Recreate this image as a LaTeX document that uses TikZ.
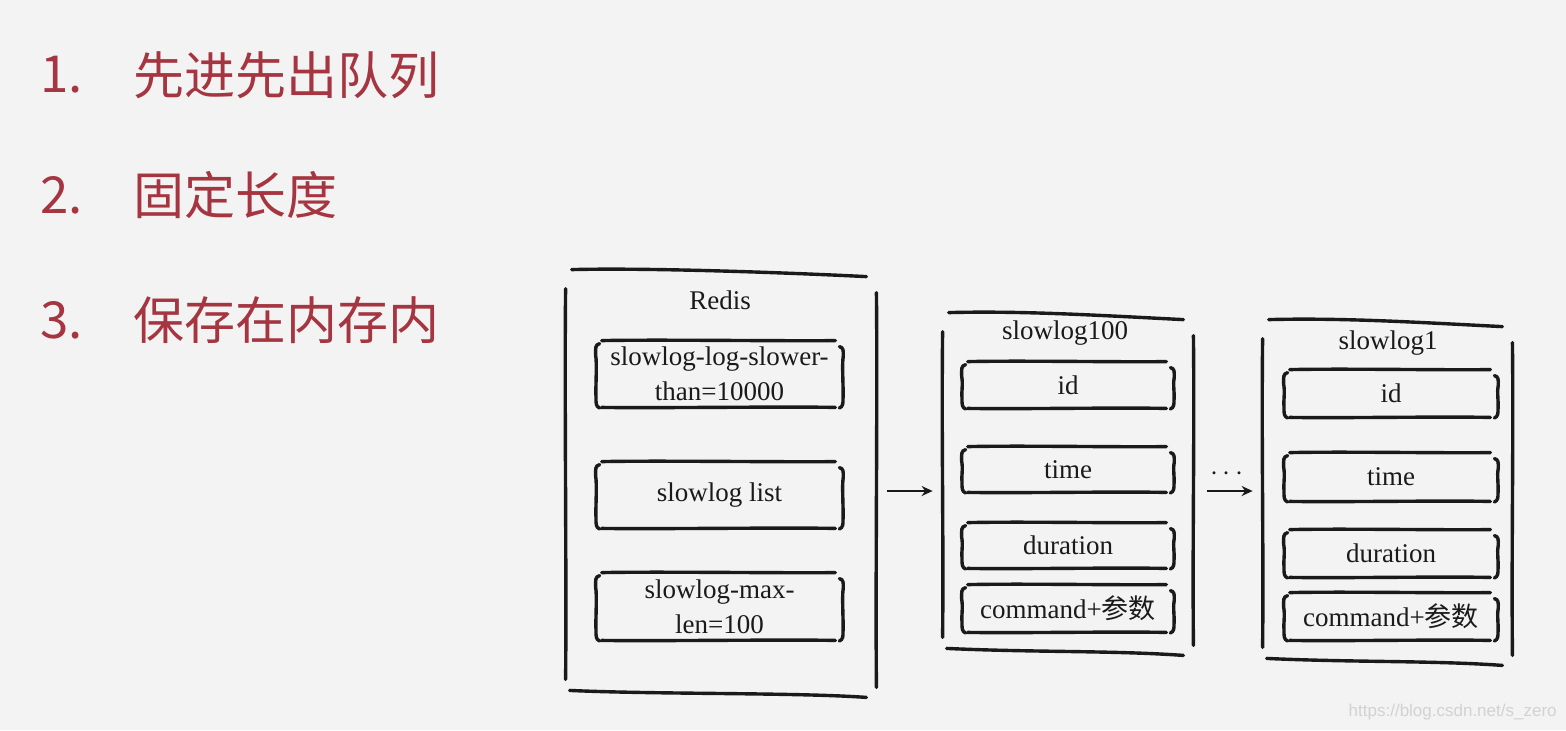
\documentclass[tikz,border=0pt]{standalone}
\usepackage{fontspec}
\setmainfont{Liberation Serif}
\newfontfamily\cjk{Noto Sans CJK SC}
\newfontfamily\marksans{Liberation Sans}
\usetikzlibrary{arrows.meta, positioning}

% hand-drawn outline of a whole record: wavy lid and floor, loose sides
\newcommand{\sketchframe}[1]{%
    \draw[stroke] ([xshift=3pt,yshift=1.5pt]#1.north west)
        .. controls ([xshift=40pt,yshift=2.5pt]#1.north west)
        and ([xshift=-45pt,yshift=0pt]#1.north east)
        .. ([xshift=-5pt,yshift=-2pt]#1.north east);
    \draw[stroke] ([xshift=2pt,yshift=2pt]#1.south west)
        .. controls ([xshift=45pt,yshift=0pt]#1.south west)
        and ([xshift=-40pt,yshift=1pt]#1.south east)
        .. ([xshift=-5pt,yshift=-1.5pt]#1.south east);
    \draw[stroke] ([yshift=-8pt]#1.north west)
        .. controls ([xshift=-0.6pt,yshift=-60pt]#1.north west)
        and ([xshift=0.5pt,yshift=60pt]#1.south west)
        .. ([yshift=7.5pt]#1.south west);
    \draw[stroke] ([yshift=-10pt]#1.north east)
        .. controls ([xshift=0.6pt,yshift=-60pt]#1.north east)
        and ([xshift=-0.5pt,yshift=60pt]#1.south east)
        .. ([yshift=3.5pt]#1.south east);
}

% hand-drawn outline of one field: two rules and a bracket on each side
\newcommand{\sketchfield}[1]{%
    \draw[stroke] ([xshift=2.5pt]#1.north west)
        .. controls ([xshift=30pt,yshift=0.6pt]#1.north west)
        and ([xshift=-30pt,yshift=-0.3pt]#1.north east)
        .. ([xshift=-3.5pt]#1.north east);
    \draw[stroke] ([xshift=2.5pt]#1.south west)
        .. controls ([xshift=30pt,yshift=-0.4pt]#1.south west)
        and ([xshift=-30pt,yshift=0.5pt]#1.south east)
        .. ([xshift=-3.5pt]#1.south east);
    \draw[stroke] ([xshift=1.5pt,yshift=-1.5pt]#1.north west)
        .. controls ([xshift=-0.8pt,yshift=-2pt]#1.north west)
        and ([xshift=-0.5pt,yshift=-4pt]#1.north west)
        .. ([xshift=-0.5pt,yshift=-7pt]#1.north west)
        .. controls ([xshift=0.3pt,yshift=-12pt]#1.north west)
        and ([xshift=-0.6pt,yshift=10pt]#1.south west)
        .. ([xshift=-0.3pt,yshift=5pt]#1.south west)
        .. controls ([xshift=-0.3pt,yshift=2.5pt]#1.south west)
        and ([xshift=-0.5pt,yshift=0.5pt]#1.south west)
        .. ([xshift=1.5pt,yshift=-0.3pt]#1.south west);
    \draw[stroke] ([xshift=-1.5pt,yshift=-3pt]#1.north east)
        .. controls ([xshift=0.6pt,yshift=-3.5pt]#1.north east)
        and ([xshift=0.5pt,yshift=-5pt]#1.north east)
        .. ([xshift=0.4pt,yshift=-8pt]#1.north east)
        .. controls ([xshift=-0.3pt,yshift=-12pt]#1.north east)
        and ([xshift=0.6pt,yshift=9pt]#1.south east)
        .. ([xshift=0.3pt,yshift=4pt]#1.south east)
        .. controls ([xshift=0.3pt,yshift=2pt]#1.south east)
        and ([xshift=0.3pt,yshift=0.5pt]#1.south east)
        .. ([xshift=-1.5pt,yshift=-0.3pt]#1.south east);
}

\begin{document}
\begin{tikzpicture}[x=0.5pt, y=-0.5pt]

% ---------------------------------------------------------------- colours
\definecolor{bg}{HTML}{F3F3F3}
\definecolor{ink}{HTML}{1A1A1A}      % the sketch lines and their text
\definecolor{listred}{HTML}{A53540}  % the three points on the left
\definecolor{markgray}{HTML}{D2D2D2}

% ---------------------------------------------------------------- styles
\tikzset{
    item/.style={anchor=west, inner sep=0pt, text=listred,
                 font=\cjk\fontsize{25.5}{30}\selectfont},
    stroke/.style={ink, line width=1.7pt, line cap=round},
    frame/.style={inner sep=0pt},
    field/.style={inner sep=0pt, align=center, text=ink,
                  font=\fontsize{13.5}{17.5}\selectfont},
    title/.style={inner sep=0pt, text=ink, font=\fontsize{13.5}{16}\selectfont},
    arrow/.style={ink, line width=1.1pt, -{Stealth[length=5.5pt, width=5pt]}},
}

% pixel grid of the slide, y runs downwards
\fill[bg] (0,0) rectangle (1566,730);
\useasboundingbox (0,0) rectangle (1566,730);

% ----------------------------------------------------------------------
% the three points
% ----------------------------------------------------------------------
\node[item] (num1) at (40,75) {1.};
\node[item] (fifo) at (133,75) {先进先出队列};
\node[item] (num2) at (40,195) {2.};
\node[item] (fixed) at (133,195) {固定长度};
\node[item] (num3) at (40,320) {3.};
\node[item] (inmem) at (133,320) {保存在内存内};

% ----------------------------------------------------------------------
% Redis and its settings
% ----------------------------------------------------------------------
\node[frame, minimum width=155pt, minimum height=210.5pt] (redis)
    at (721,483.5) {};
\node[title] (redistitle) at (720,300) {Redis};

\node[field, minimum width=122.5pt, minimum height=33pt] (slower)
    at (719.5,374) {slowlog-log-slower-\\than=10000};
\node[field, minimum width=122.5pt, minimum height=33pt] (list)
    at (719.5,495) {slowlog list};
\node[field, minimum width=122.5pt, minimum height=33.5pt] (maxlen)
    at (719.5,606.5) {slowlog-max-\\len=100};

\sketchframe{redis}
\sketchfield{slower}
\sketchfield{list}
\sketchfield{maxlen}

% ----------------------------------------------------------------------
% newest entry
% ----------------------------------------------------------------------
\node[frame, minimum width=125pt, minimum height=168pt] (log100)
    at (1068,484) {};
\node[title] (log100title) at (1065,333) {slowlog100};

\node[field, minimum width=105pt, minimum height=23pt] (id100)
    at (1068,385) {id};
\node[field, minimum width=105pt, minimum height=22.5pt] (time100)
    at (1068,469.5) {time};
\node[field, minimum width=105pt, minimum height=22.5pt] (dur100)
    at (1068,545.5) {duration};
\node[field, minimum width=105pt, minimum height=23.5pt] (cmd100)
    at (1068,608.5) {command+{\cjk 参数}};

\sketchframe{log100}
\sketchfield{id100}
\sketchfield{time100}
\sketchfield{dur100}
\sketchfield{cmd100}

% ----------------------------------------------------------------------
% oldest entry
% ----------------------------------------------------------------------
\node[frame, minimum width=124.5pt, minimum height=169.5pt] (log1)
    at (1387.5,492.5) {};
\node[title] (log1title) at (1388,343) {slowlog1};

\node[field, minimum width=106pt, minimum height=23.5pt] (id1)
    at (1391,393.5) {id};
\node[field, minimum width=106pt, minimum height=24pt] (time1)
    at (1391,477) {time};
\node[field, minimum width=106pt, minimum height=23.5pt] (dur1)
    at (1391,553.5) {duration};
\node[field, minimum width=106pt, minimum height=23.5pt] (cmd1)
    at (1391,616.5) {command+{\cjk 参数}};

\sketchframe{log1}
\sketchfield{id1}
\sketchfield{time1}
\sketchfield{dur1}
\sketchfield{cmd1}

% ----------------------------------------------------------------------
% the list runs from Redis to the newest, and on to the oldest
% ----------------------------------------------------------------------
\draw[arrow] ([xshift=5.5pt,yshift=-3.75pt]redis.east)
    -- ([xshift=-5pt,yshift=-3.5pt]log100.west);
\draw[arrow] ([xshift=7pt,yshift=-3.5pt]log100.east)
    -- ([xshift=-5pt,yshift=0.75pt]log1.west);
\node[inner sep=0pt, text=ink, font=\fontsize{14}{16}\selectfont] (more)
    at (1227,474) {$\cdots$};

% watermark
\node[anchor=east, inner sep=0pt, text=markgray,
      font=\marksans\fontsize{8.5}{10}\selectfont] (mark)
    at (1557,712) {https://blog.csdn.net/s\_zero};

\end{tikzpicture}
\end{document}
